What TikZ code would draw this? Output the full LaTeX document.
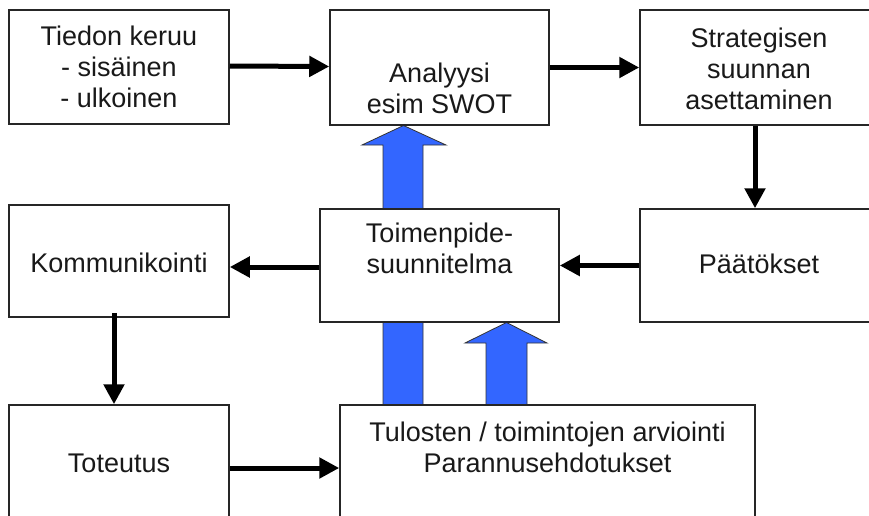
\documentclass[tikz,border=0pt]{standalone}
\usepackage{fontspec}
\setmainfont{Liberation Sans}
\usetikzlibrary{arrows.meta}
\definecolor{bluearr}{HTML}{3366FF}
\begin{document}
\begin{tikzpicture}[x=1pt,y=-1pt,
  box/.style={draw=black!85,line width=1.5pt,fill=white,rectangle,inner sep=0pt},
  txt/.style={anchor=base,align=center,inner sep=0pt,text=black!90,font=\fontsize{27}{31}\selectfont},
  arr/.style={line width=5pt,-{Triangle[length=20pt,width=20pt]}},
  fat/.style={draw=black!80,line width=0.8pt,fill=bluearr}]
\useasboundingbox (0,0) rectangle (869,515);
\clip (0,0) rectangle (869,515);
% blue arrows
\draw[fat] (383,406) -- (383,145) -- (362,145) -- (403.5,125.5) -- (446,145) -- (423,145) -- (423,406) -- cycle;
\draw[fat] (486,406) -- (486,343) -- (465,343) -- (506.5,322.5) -- (547,343) -- (527,343) -- (527,406) -- cycle;
% boxes
\node[box,minimum width=220pt,minimum height=114pt] (tk) at (119,67) {};
\node[box,minimum width=219pt,minimum height=115pt] (an) at (439.5,67.5) {};
\node[box,minimum width=238pt,minimum height=115pt] (st) at (759,67.5) {};
\node[box,minimum width=220pt,minimum height=112pt] (ko) at (119,261) {};
\node[box,minimum width=239pt,minimum height=113pt] (to) at (439.5,265.5) {};
\node[box,minimum width=238pt,minimum height=113pt] (pa) at (759,265.5) {};
\node[box,minimum width=220pt,minimum height=120pt] (tt) at (119,465) {};
\node[box,minimum width=415pt,minimum height=120pt] (tu) at (547.5,465) {};
% texts (base anchor = last line's baseline)
\node[txt] (tkt) at (119,107) {Tiedon keruu\\- sisäinen\\- ulkoinen};
\node[txt] (ant) at (439.5,113) {Analyysi\\esim SWOT};
\node[txt] (stt) at (759,109) {Strategisen\\suunnan\\asettaminen};
\node[txt] (kot) at (119,272) {Kommunikointi};
\node[txt] (tot) at (439.5,273) {Toimenpide-\\suunnitelma};
\node[txt] (pat) at (759,273) {Päätökset};
\node[txt] (ttt) at (119,472) {Toteutus};
\node[txt] (tut) at (547.5,472) {Tulosten / toimintojen arviointi\\Parannusehdotukset};
% black arrows
\draw[arr] ([yshift=1pt]tk.east) -- ([yshift=1pt]an.west);
\draw[arr] (an.east) -- (an.east -| st.west);
\draw[arr] ([xshift=-4pt]st.south) -- ([xshift=-4pt]pa.north);
\draw[arr] (pa.west) -- (to.east);
\draw[arr] ([yshift=-1.5pt]to.west) -- ([yshift=-1.5pt]to.west -| ko.east);
\draw[arr] ([xshift=-5pt,yshift=5pt]ko.south) -- ([xshift=-5pt]tt.north);
\draw[arr] ([yshift=-3pt]tt.east) -- ([yshift=-3pt]tt.east -| tu.west);
\end{tikzpicture}
\end{document}
